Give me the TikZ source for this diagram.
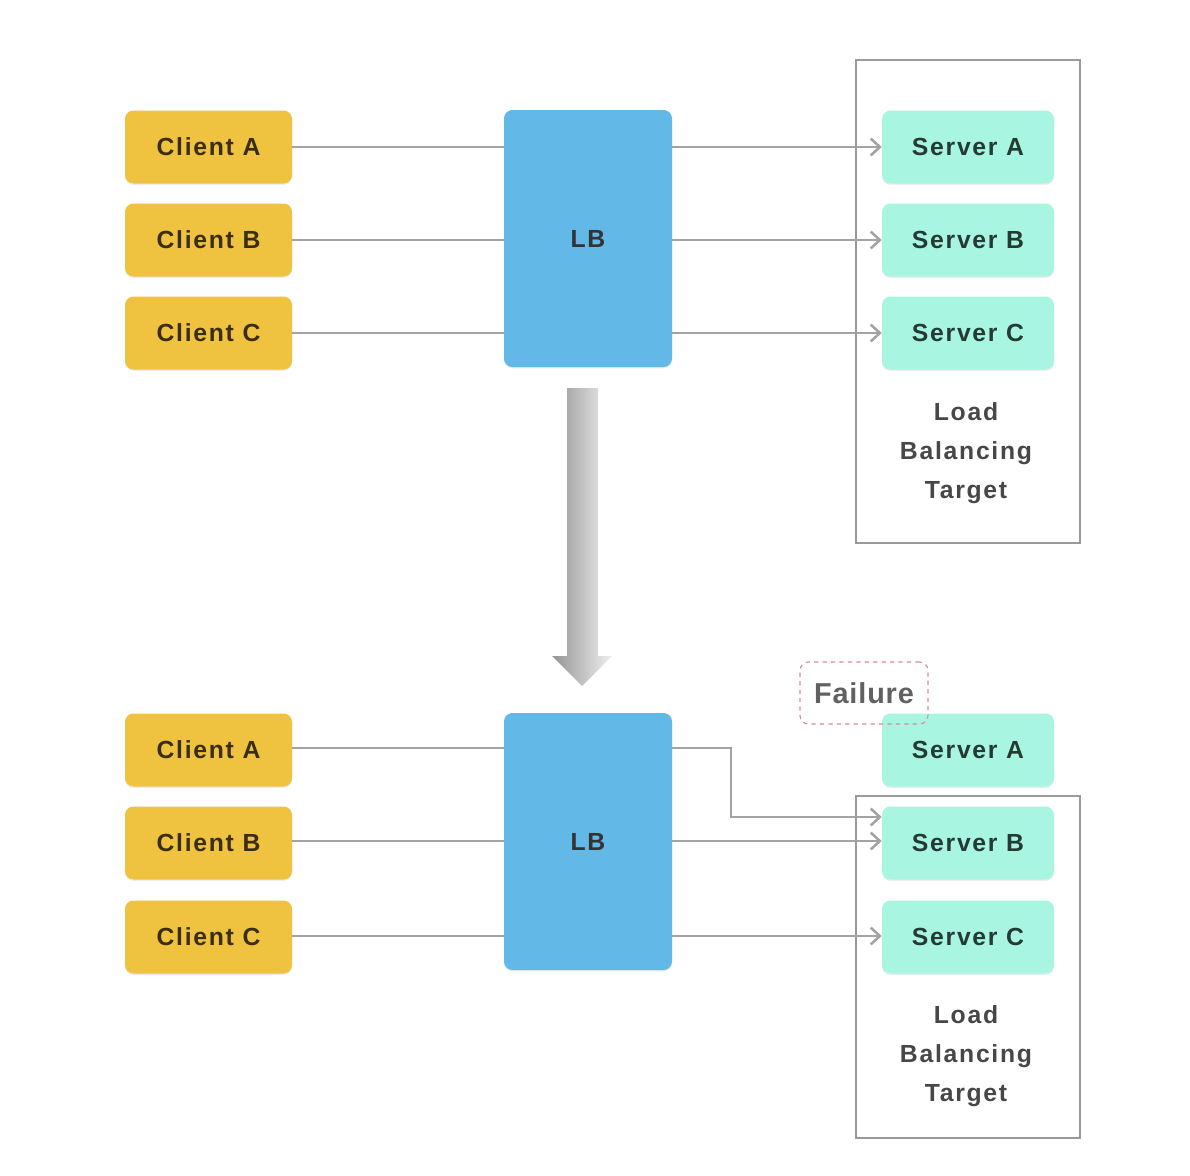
\documentclass[tikz,border=0pt]{standalone}
\usepackage{fontspec}
\setmainfont{Liberation Sans}
\usetikzlibrary{arrows.meta,shadows}
\definecolor{cliY}{HTML}{EFC23F}
\definecolor{cliT}{HTML}{3A2E12}
\definecolor{lbB}{HTML}{62B8E6}
\definecolor{srvG}{HTML}{A8F6E1}
\definecolor{srvT}{HTML}{243A33}
\definecolor{lineG}{HTML}{A3A3A3}
\definecolor{boxG}{HTML}{9A9A9A}
\definecolor{failR}{HTML}{D98A9C}
\newfontfamily\spacedfont[LetterSpace=7]{Liberation Sans}
\newfontfamily\failfont[LetterSpace=3]{Liberation Sans}
\begin{document}
\begin{tikzpicture}[x=0.025cm,y=-0.025cm,
  base/.style={draw=none,rounded corners=6pt,minimum width=167*0.025cm,minimum height=73*0.025cm,inner sep=0pt,
    font=\spacedfont\bfseries\fontsize{17.6}{20}\selectfont, drop shadow={shadow xshift=0pt,shadow yshift=-1pt,opacity=0.15}},
  client/.style={base,fill=cliY,text=cliT},
  server/.style={base,fill=srvG,text=srvT,minimum width=172*0.025cm},
  lb/.style={draw=none,fill=lbB,rounded corners=6pt,minimum width=168*0.025cm,minimum height=257*0.025cm,inner sep=0pt,
    font=\spacedfont\bfseries\fontsize{17.6}{20}\selectfont,text=black!80, drop shadow={shadow xshift=0pt,shadow yshift=-1pt,opacity=0.15}},
  tgt/.style={draw=boxG,line width=1.6pt,inner sep=0pt},
  tgtlabel/.style={align=center,font=\spacedfont\bfseries\fontsize{17.6}{27.6}\selectfont,text=black!72},
  conn/.style={draw=lineG,line width=1.8pt},
  arr/.style={conn,-{Straight Barb[length=6.5pt,width=12pt,line width=1.8pt]}}
]
\useasboundingbox (0,0) rectangle (1190,1176);
\fill[white] (0,0) rectangle (1190,1176);

% ---------- top ----------
\node[tgt,minimum width=224*0.025cm,minimum height=483*0.025cm] (T1) at (968,301.5) {};
\node[client] (ca1) at (208.5,147) {Client A};
\node[client] (cb1) at (208.5,240) {Client B};
\node[client] (cc1) at (208.5,333) {Client C};
\node[lb] (lb1) at (588,238.5) {LB};
\node[server] (sa1) at (968,147) {Server A};
\node[server] (sb1) at (968,240) {Server B};
\node[server] (sc1) at (968,333) {Server C};
\node[tgtlabel] (tl1) at (966,453) {Load\\Balancing\\Target};

\draw[conn] (ca1.east) -- (ca1.east -| lb1.west);
\draw[conn] (cb1.east) -- (cb1.east -| lb1.west);
\draw[conn] (cc1.east) -- (cc1.east -| lb1.west);
\draw[arr] (sa1.west -| lb1.east) -- (sa1.west);
\draw[arr] (sb1.west -| lb1.east) -- (sb1.west);
\draw[arr] (sc1.west -| lb1.east) -- (sc1.west);

% ---------- transition arrow ----------
\shade[left color=black!42,right color=black!6]
  (567,388) -- (598,388) -- (598,656) -- (612,656) -- (582,686) -- (552,656) -- (567,656) -- cycle;

% ---------- bottom ----------
\node[tgt,minimum width=224*0.025cm,minimum height=342*0.025cm] (T2) at (968,967) {};
\node[client] (ca2) at (208.5,750) {Client A};
\node[client] (cb2) at (208.5,843) {Client B};
\node[client] (cc2) at (208.5,937) {Client C};
\node[lb] (lb2) at (588,841.5) {LB};
\node[server] (sa2) at (968,750) {Server A};
\node[server] (sb2) at (968,843) {Server B};
\node[server] (sc2) at (968,937) {Server C};
\node[tgtlabel] (tl2) at (966,1056) {Load\\Balancing\\Target};
\node[draw=failR,dashed,line width=0.8pt,rounded corners=6pt,minimum width=128*0.025cm,minimum height=62*0.025cm,
  inner sep=0pt,font=\failfont\bfseries\fontsize{20.5}{24}\selectfont,text=black!62] (fail) at (864,693) {Failure};

\coordinate (b1) at (731,748);
\coordinate (b2) at (731,817);
\draw[conn] (ca2.east |- 0,748) -- (lb2.west |- 0,748);
\draw[conn] (cb2.east |- 0,841) -- (lb2.west |- 0,841);
\draw[conn] (cc2.east |- 0,936) -- (lb2.west |- 0,936);
\draw[arr] (lb2.east |- b1) -- (b1) -- (b2) -- (sb2.west |- b2);
\draw[arr] (lb2.east |- 0,841) -- (sb2.west |- 0,841);
\draw[arr] (lb2.east |- 0,936) -- (sc2.west |- 0,936);
\end{tikzpicture}
\end{document}
